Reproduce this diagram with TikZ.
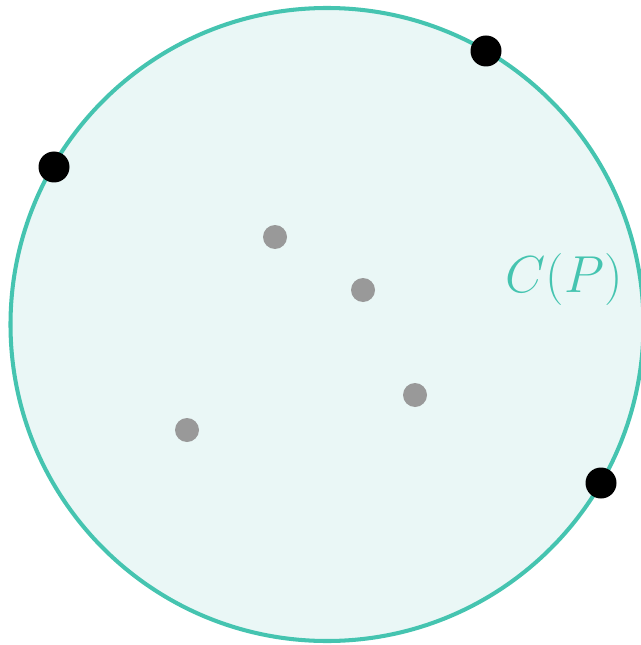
\documentclass[tikz,border=0pt]{standalone}
\usepackage{amsmath}
\definecolor{hullteal}{HTML}{45C4B0}
\definecolor{hullfill}{HTML}{EAF7F6}
\definecolor{ptgray}{HTML}{999999}
\begin{document}
\begin{tikzpicture}[x=0.02cm,y=-0.02cm]
\useasboundingbox (0,0) rectangle (641,645);
\draw[hullteal,fill=hullfill,line width=2.3pt] (327,324.5) circle (316.5);
\foreach \px/\py in {275/237, 363/290, 415/395, 187/430}
  \fill[ptgray] (\px,\py) circle (12);
\foreach \px/\py in {486/51, 54/167, 601/483}
  \fill[black] (\px,\py) circle (15.5);
\node[hullteal,font=\Huge] (label) at (564,279) {\scalebox{1.19}{$C(P)$}};
\end{tikzpicture}
\end{document}
